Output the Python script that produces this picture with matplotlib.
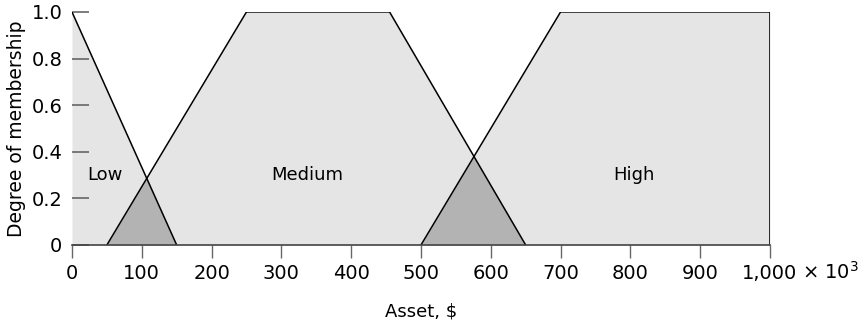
import numpy as np
import matplotlib
matplotlib.use("Agg")
import matplotlib.pyplot as plt

plt.rcParams["font.family"] = ["DejaVu Sans"]

# membership functions (breakpoints, in $ x 10^3)
low_x, low_y = [0, 0, 150], [0, 1, 0]
med_x, med_y = [50, 250, 455, 650], [0, 1, 1, 0]
high_x, high_y = [500, 700, 1000, 1000], [0, 1, 1, 0]

labels = ["Low", "Medium", "High"]
label_x = [47, 337, 805]
label_y = [0.30, 0.30, 0.30]

xticks = [0, 100, 200, 300, 400, 500, 600, 700, 800, 900, 1000]
xticklabels = ["0", "100", "200", "300", "400", "500", "600", "700", "800", "900", "1,000"]
yticks = [0, 0.2, 0.4, 0.6, 0.8, 1.0]
yticklabels = ["0", "0.2", "0.4", "0.6", "0.8", "1.0"]

xs = np.linspace(0, 1000, 4001)
mu_low = np.interp(xs, low_x[1:], low_y[1:], left=1, right=0)
mu_med = np.interp(xs, med_x, med_y, left=0, right=0)
mu_high = np.interp(xs, high_x[:3], high_y[:3], left=0, right=1)

fig = plt.figure(figsize=(8.6, 3.23), dpi=100)
ax = fig.add_axes([0.0837, 0.2415, 0.8116, 0.7215])

# union of the sets in light grey, pairwise overlaps darker
union = np.maximum(np.maximum(mu_low, mu_med), mu_high)
ax.fill_between(xs, 0, union, color="#e5e5e5", lw=0)
ov1 = np.minimum(mu_low, mu_med)
ov2 = np.minimum(mu_med, mu_high)
ax.fill_between(xs, 0, ov1, where=ov1 > 0, color="#b3b3b3", lw=0)
ax.fill_between(xs, 0, ov2, where=ov2 > 0, color="#b3b3b3", lw=0)

ax.plot(low_x[1:], low_y[1:], color="black", lw=1.1)
ax.plot(med_x, med_y, color="black", lw=1.1)
ax.plot(high_x, high_y, color="black", lw=1.1)

for t, x, y in zip(labels, label_x, label_y):
    ax.text(x, y, t, ha="center", va="center", fontsize=13)

ax.set_xlim(0, 1000)
ax.set_ylim(0, 1.0)
ax.set_xticks(xticks)
ax.set_xticklabels(xticklabels, fontsize=14)
ax.set_yticks(yticks)
ax.set_yticklabels(yticklabels, fontsize=14)
ax.tick_params(axis="x", direction="out", length=9, width=1, color="#666666", pad=5)
ax.tick_params(axis="y", direction="in", length=12, width=1.2, color="#666666", pad=7)
ax.annotate("× 10$^3$", xy=(1000, 0), xytext=(23, -19), textcoords="offset points",
            ha="left", va="center", fontsize=14, annotation_clip=False)
for s in ["top", "right", "left"]:
    ax.spines[s].set_visible(False)
ax.spines["bottom"].set_color("#444444")
ax.spines["bottom"].set_linewidth(1.2)

ax.set_xlabel("Asset, $", fontsize=13, labelpad=14)
ax.set_ylabel("Degree of membership", fontsize=13.5, labelpad=4)

fig.savefig("out.png", dpi=100)
